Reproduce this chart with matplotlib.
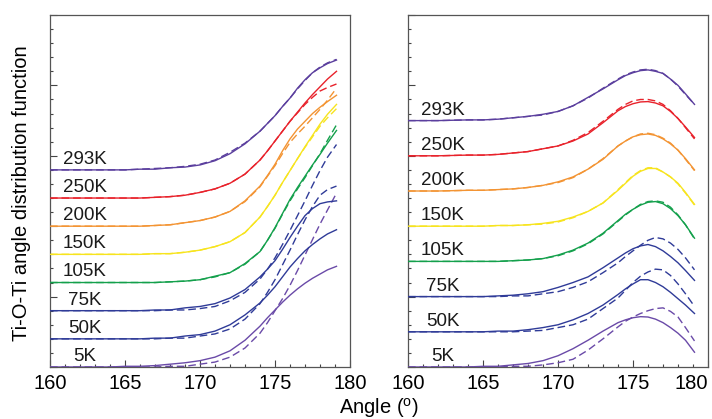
import numpy as np
import matplotlib
matplotlib.use("Agg")
import matplotlib.pyplot as plt
from matplotlib.ticker import MultipleLocator, NullFormatter

plt.rcParams['font.family'] = ['Liberation Sans', 'DejaVu Sans']

# ---------------- data ----------------
angles = [160, 162, 164, 165, 166, 167, 168, 169, 170, 171, 172, 173, 174,
          174.5, 175, 175.5, 176, 176.5, 177, 177.5, 178, 178.5, 179.1]

temps = ['5K', '50K', '75K', '105K', '150K', '200K', '250K', '293K']
colors = ['#6a4aa8', '#2f3b98', '#2f3b98', '#14a04c', '#f7e41e', '#f39433', '#e8222b', '#5b3f9e']

offsets_left = [0.0, 0.4, 0.8, 1.2, 1.6, 2.0, 2.4, 2.8]
offsets_right = [0.0, 0.5, 1.0, 1.5, 2.0, 2.5, 3.0, 3.5]

# left panel: solid (model) and dashed curves, height above each baseline
left_solid = {
    '5K':   [0, 0, 0, 0.01, 0.01, 0.02, 0.04, 0.06, 0.09, 0.14, 0.23, 0.38, 0.58, 0.70, 0.81, 0.92, 1.02, 1.11, 1.19, 1.26, 1.32, 1.38, 1.43],
    '50K':  [0, 0, 0, 0, 0, 0.01, 0.01, 0.04, 0.06, 0.11, 0.20, 0.34, 0.51, 0.62, 0.74, 0.88, 1.02, 1.14, 1.25, 1.34, 1.42, 1.49, 1.55],
    '75K':  [0, 0, 0, 0, 0, 0.01, 0.01, 0.04, 0.06, 0.10, 0.18, 0.30, 0.48, 0.59, 0.71, 0.87, 1.04, 1.20, 1.35, 1.45, 1.52, 1.545, 1.56],
    '105K': [0, 0, 0, 0, 0, 0, 0.01, 0.02, 0.04, 0.09, 0.14, 0.27, 0.44, 0.60, 0.78, 0.98, 1.18, 1.35, 1.51, 1.67, 1.82, 1.98, 2.16],
    '150K': [0, 0, 0, 0, 0, 0.01, 0.01, 0.03, 0.06, 0.11, 0.18, 0.31, 0.53, 0.68, 0.84, 1.02, 1.19, 1.36, 1.53, 1.69, 1.85, 1.99, 2.13],
    '200K': [0, 0, 0, 0, 0, 0.01, 0.02, 0.05, 0.08, 0.13, 0.21, 0.36, 0.57, 0.72, 0.88, 1.07, 1.24, 1.38, 1.49, 1.60, 1.69, 1.77, 1.86],
    '250K': [0, 0, 0, 0, 0, 0.01, 0.02, 0.04, 0.08, 0.13, 0.21, 0.34, 0.54, 0.67, 0.81, 0.95, 1.09, 1.22, 1.35, 1.47, 1.58, 1.69, 1.80],
    '293K': [0, 0, 0, 0, 0.01, 0.01, 0.03, 0.04, 0.07, 0.13, 0.23, 0.37, 0.55, 0.66, 0.77, 0.90, 1.02, 1.16, 1.28, 1.38, 1.45, 1.51, 1.56],
}
left_dashed = {
    '5K':   [0, 0, 0, 0, 0, 0, 0.01, 0.01, 0.04, 0.07, 0.14, 0.27, 0.48, 0.63, 0.80, 0.97, 1.16, 1.37, 1.59, 1.81, 2.03, 2.23, 2.47],
    '50K':  [0, 0, 0, 0, 0, 0, 0.01, 0.01, 0.04, 0.07, 0.14, 0.28, 0.50, 0.66, 0.84, 1.05, 1.26, 1.48, 1.69, 1.88, 2.04, 2.12, 2.17],
    '75K':  [0, 0, 0, 0, 0, 0, 0.01, 0.01, 0.03, 0.06, 0.14, 0.26, 0.45, 0.59, 0.75, 0.94, 1.14, 1.35, 1.56, 1.78, 1.99, 2.18, 2.36],
    '105K': [0, 0, 0, 0, 0, 0, 0.01, 0.02, 0.04, 0.08, 0.14, 0.26, 0.44, 0.60, 0.77, 0.97, 1.16, 1.33, 1.49, 1.66, 1.83, 2.02, 2.24],
    '150K': [0, 0, 0, 0, 0, 0.01, 0.01, 0.03, 0.06, 0.11, 0.18, 0.31, 0.53, 0.68, 0.84, 1.02, 1.19, 1.36, 1.52, 1.67, 1.82, 1.94, 2.07],
    '200K': [0, 0, 0, 0, 0, 0.01, 0.02, 0.05, 0.08, 0.13, 0.21, 0.35, 0.56, 0.71, 0.86, 1.03, 1.19, 1.31, 1.42, 1.54, 1.66, 1.79, 1.96],
    '250K': [0, 0, 0, 0, 0, 0.01, 0.02, 0.04, 0.08, 0.13, 0.21, 0.34, 0.54, 0.67, 0.81, 0.95, 1.09, 1.21, 1.33, 1.43, 1.52, 1.57, 1.62],
    '293K': [0, 0, 0, 0, 0.01, 0.02, 0.03, 0.05, 0.08, 0.14, 0.25, 0.38, 0.55, 0.66, 0.77, 0.90, 1.02, 1.15, 1.27, 1.38, 1.46, 1.52, 1.57],
}

# right panel: solid (model) and dashed curves
right_solid = {
    '5K':   [0, 0, 0, 0.01, 0.01, 0.03, 0.05, 0.09, 0.16, 0.26, 0.38, 0.51, 0.63, 0.67, 0.70, 0.715, 0.71, 0.68, 0.63, 0.56, 0.48, 0.38, 0.21],
    '50K':  [0, 0, 0, 0, 0.01, 0.01, 0.03, 0.06, 0.10, 0.17, 0.26, 0.38, 0.53, 0.61, 0.68, 0.74, 0.74, 0.70, 0.64, 0.56, 0.47, 0.38, 0.26],
    '75K':  [0, 0, 0, 0, 0.01, 0.02, 0.04, 0.07, 0.13, 0.20, 0.28, 0.41, 0.55, 0.62, 0.68, 0.72, 0.74, 0.71, 0.65, 0.57, 0.48, 0.37, 0.23],
    '105K': [0, 0, 0, 0, 0, 0.01, 0.02, 0.04, 0.09, 0.16, 0.26, 0.40, 0.58, 0.67, 0.74, 0.80, 0.84, 0.85, 0.82, 0.75, 0.65, 0.52, 0.33],
    '150K': [0, 0, 0, 0, 0.01, 0.01, 0.02, 0.04, 0.07, 0.13, 0.21, 0.33, 0.51, 0.61, 0.71, 0.78, 0.82, 0.82, 0.77, 0.70, 0.61, 0.48, 0.31],
    '200K': [0, 0, 0.01, 0.01, 0.02, 0.03, 0.05, 0.08, 0.13, 0.20, 0.31, 0.45, 0.64, 0.71, 0.77, 0.80, 0.81, 0.79, 0.74, 0.67, 0.58, 0.46, 0.30],
    '250K': [0, 0, 0.01, 0.01, 0.02, 0.04, 0.06, 0.10, 0.14, 0.21, 0.31, 0.47, 0.64, 0.70, 0.74, 0.765, 0.77, 0.75, 0.71, 0.63, 0.53, 0.41, 0.26],
    '293K': [0, 0, 0.01, 0.01, 0.02, 0.04, 0.06, 0.09, 0.13, 0.21, 0.33, 0.45, 0.58, 0.64, 0.68, 0.71, 0.72, 0.70, 0.67, 0.59, 0.50, 0.38, 0.23],
}
right_dashed = {
    '5K':   [0, 0, 0, 0, 0, 0.01, 0.01, 0.03, 0.06, 0.11, 0.24, 0.40, 0.57, 0.65, 0.71, 0.76, 0.80, 0.83, 0.84, 0.79, 0.71, 0.56, 0.37],
    '50K':  [0, 0, 0, 0, 0, 0, 0.01, 0.02, 0.06, 0.10, 0.18, 0.33, 0.48, 0.59, 0.70, 0.79, 0.85, 0.89, 0.88, 0.80, 0.68, 0.54, 0.36],
    '75K':  [0, 0, 0, 0, 0, 0.01, 0.01, 0.04, 0.07, 0.13, 0.21, 0.34, 0.48, 0.57, 0.65, 0.73, 0.80, 0.84, 0.82, 0.76, 0.67, 0.55, 0.38],
    '105K': [0, 0, 0, 0, 0, 0.01, 0.02, 0.04, 0.08, 0.15, 0.25, 0.39, 0.57, 0.66, 0.74, 0.81, 0.85, 0.86, 0.84, 0.77, 0.66, 0.52, 0.32],
    '150K': [0, 0, 0, 0, 0.01, 0.01, 0.02, 0.03, 0.06, 0.12, 0.21, 0.33, 0.52, 0.62, 0.72, 0.79, 0.83, 0.83, 0.77, 0.70, 0.60, 0.47, 0.30],
    '200K': [0, 0, 0.01, 0.01, 0.02, 0.03, 0.05, 0.08, 0.12, 0.19, 0.31, 0.46, 0.64, 0.71, 0.77, 0.81, 0.82, 0.80, 0.75, 0.68, 0.58, 0.45, 0.29],
    '250K': [0, 0, 0.01, 0.01, 0.02, 0.04, 0.06, 0.10, 0.14, 0.22, 0.33, 0.49, 0.66, 0.73, 0.78, 0.80, 0.80, 0.78, 0.73, 0.64, 0.53, 0.40, 0.24],
    '293K': [0, 0, 0.01, 0.01, 0.02, 0.04, 0.06, 0.08, 0.13, 0.21, 0.32, 0.46, 0.59, 0.65, 0.69, 0.72, 0.73, 0.71, 0.67, 0.59, 0.49, 0.37, 0.23],
}

x_ticks = [160, 165, 170, 175, 180]
label_x = 162.3
label_dy = 0.15

# ---------------- figure ----------------
fig = plt.figure(figsize=(7.12, 4.19), dpi=100)
ax_l = fig.add_axes([50 / 712, 52 / 419, 300 / 712, 352 / 419])
ax_r = fig.add_axes([408 / 712, 52 / 419, 300 / 712, 352 / 419])

panels = [
    (ax_l, left_solid, left_dashed, offsets_left),
    (ax_r, right_solid, right_dashed, offsets_right),
]

for ax, solid, dashed, offs in panels:
    for t, c, off in zip(temps, colors, offs):
        ax.plot(angles, np.array(dashed[t]) + off, color=c, lw=1.0,
                dashes=(5.5, 2.8), zorder=2)
        ax.plot(angles, np.array(solid[t]) + off, color=c, lw=1.0, zorder=3)
        ax.text(label_x, off + label_dy, t, fontsize=13.5, ha='center',
                va='center', color='#1a1a1a')
    ax.set_xlim(160, 180)
    ax.set_ylim(0, 5)
    ax.set_xticks(x_ticks)
    ax.xaxis.set_minor_locator(MultipleLocator(1))
    ax.yaxis.set_major_locator(MultipleLocator(1))
    ax.yaxis.set_minor_locator(MultipleLocator(0.2))
    ax.yaxis.set_major_formatter(NullFormatter())
    ax.tick_params(axis='both', which='both', direction='in', top=False,
                   right=False, color='#444444')
    ax.tick_params(axis='both', which='major', length=5, width=0.8,
                   labelsize=14.5, pad=5)
    ax.tick_params(axis='both', which='minor', length=2.5, width=0.8)
    for s in ax.spines.values():
        s.set_color('#555555')
        s.set_linewidth(0.9)

# keep the last tick label of the right panel inside the figure
ax_r.xaxis.get_major_ticks()[-1].label1.set_horizontalalignment('right')

fig.text(22 / 712, 0.539, 'Ti-O-Ti angle distribution function', rotation=90,
         ha='center', va='center', fontsize=14.5)
fig.text(379 / 712, 11 / 419, 'Angle ($^\\mathregular{o}$)', ha='center',
         va='center', fontsize=14.5)

fig.savefig('out.png', dpi=100)
